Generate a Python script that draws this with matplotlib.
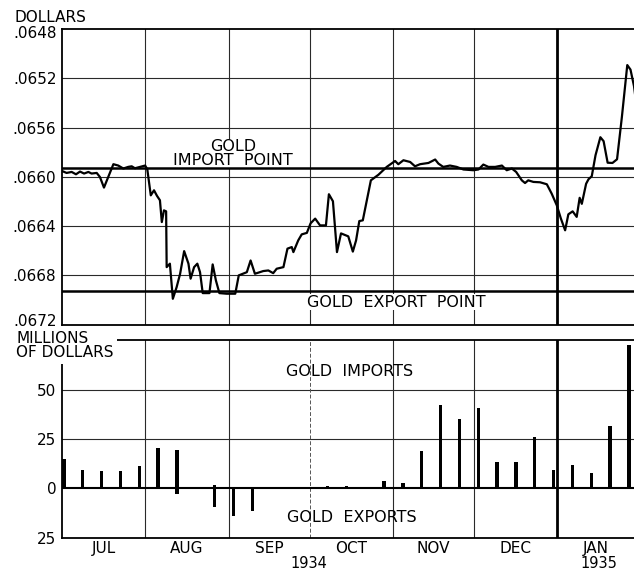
import matplotlib
matplotlib.use("Agg")
import matplotlib.pyplot as plt
import matplotlib.transforms as mtransforms
import numpy as np
import pandas as pd

plt.rcParams["font.family"] = ["DejaVu Sans"]

# ---- data -------------------------------------------------------------
START = pd.Timestamp("1934-07-01")
END_DAY = 212.6  # last day shown (late January 1935)

# dollar value of the exchange rate (days since 1 Jul 1934)
rate_day = [0.0, 1.7, 3.6, 5.2, 6.7, 8.2, 9.8, 11.0, 12.9, 14.1, 15.6, 17.2,
            19.1, 20.9, 22.8, 24.6, 25.9, 27.1, 29.0, 30.9, 31.7, 33.0, 34.2,
            35.3, 36.4, 37.1, 37.9, 38.7, 38.9, 40.1, 41.2, 42.6, 43.9, 45.4,
            47.0, 47.8, 49.1, 50.3, 51.3, 52.3, 54.8, 56.0, 57.2, 58.5, 61.2,
            64.4, 65.7, 68.7, 70.1, 71.7, 74.8, 76.7, 78.5, 79.8, 82.3, 83.8,
            85.4, 86.0, 87.8, 89.1, 91.0, 92.4, 94.1, 95.3, 95.9, 98.1, 99.2,
            100.7, 102.2, 103.7, 106.4, 108.1, 109.3, 110.5, 111.8, 113.3,
            114.8, 117.6, 120.7, 123.8, 125.0, 126.9, 129.4, 131.2, 133.1,
            136.2, 138.7, 139.9, 141.7, 144.2, 146.7, 149.2, 152.9, 154.8,
            156.6, 158.5, 161.0, 163.5, 165.3, 167.2, 168.8, 170.9, 172.1,
            173.3, 175.2, 177.7, 180.2, 182.0, 183.9, 185.4, 187.0, 188.2,
            189.8, 191.3, 192.4, 193.2, 194.8, 195.7, 196.9, 198.3, 200.1,
            201.3, 202.8, 204.6, 206.3, 208.1, 210.1, 211.3, 212.6, 213.4]
rate_value = [0.065953, 0.065969, 0.065961, 0.065980, 0.065958, 0.065974,
              0.065961, 0.065974, 0.065969, 0.066002, 0.066088, 0.066002,
              0.065898, 0.065909, 0.065933, 0.065920, 0.065915, 0.065931,
              0.065920, 0.065909, 0.065939, 0.066151, 0.066110, 0.066155,
              0.066191, 0.066368, 0.066273, 0.066281, 0.066734, 0.066706,
              0.066991, 0.066897, 0.066788, 0.066604, 0.066706, 0.066828,
              0.066734, 0.066706, 0.066775, 0.066945, 0.066945, 0.066712,
              0.066842, 0.066945, 0.066950, 0.066950, 0.066801, 0.066775,
              0.066680, 0.066788, 0.066766, 0.066761, 0.066783, 0.066747,
              0.066734, 0.066584, 0.066571, 0.066612, 0.066517, 0.066468,
              0.066456, 0.066378, 0.066340, 0.066376, 0.066395, 0.066395,
              0.066142, 0.066199, 0.066612, 0.066460, 0.066484, 0.066608,
              0.066517, 0.066360, 0.066354, 0.066191, 0.066029, 0.065984,
              0.065920, 0.065872, 0.065898, 0.065866, 0.065880, 0.065915,
              0.065898, 0.065888, 0.065860, 0.065893, 0.065920, 0.065909,
              0.065920, 0.065941, 0.065947, 0.065941, 0.065901, 0.065920,
              0.065920, 0.065909, 0.065947, 0.065933, 0.065961, 0.066029,
              0.066051, 0.066029, 0.066042, 0.066045, 0.066061, 0.066137,
              0.066232, 0.066338, 0.066435, 0.066305, 0.066281, 0.066326,
              0.066171, 0.066220, 0.066057, 0.066020, 0.065996, 0.065825,
              0.065679, 0.065711, 0.065886, 0.065888, 0.065858, 0.065514,
              0.065093, 0.065130, 0.065264, 0.065400]

GOLD_IMPORT_POINT = 0.06593
GOLD_EXPORT_POINT = 0.06693

# weekly gold movements, millions of dollars
week_start = pd.Timestamp("1934-07-01 17:00")
gold_imports = [15.0, 9.6, 8.7, 8.7, 11.6, 20.5, 19.3, 0.8, 1.5, 0, 0,
                0, 0, 0, 1.0, 1.0, 0, 3.8, 2.9, 18.9, 42.2, 35.4, 40.8,
                13.5, 13.3, 26.2, 9.2, 11.8, 7.6, 31.8, 72.8]
gold_exports = [0, 0, 0, 0, 0, 0, 2.7, 0, 9.4, 14.3, 11.5,
                0, 0, 0, 0, 0, 0, 0, 0, 0, 0, 0, 0,
                0, 0, 0, 0, 0, 0, 0, 0]

rate_ticks = [0.0648, 0.0652, 0.0656, 0.0660, 0.0664, 0.0668, 0.0672]
flow_ticks = [-25, 0, 25, 50]
flow_tick_labels = ["25", "0", "25", "50"]
months = ["JUL", "AUG", "SEP", "OCT", "NOV", "DEC", "JAN"]
month_starts = pd.date_range("1934-07-01", periods=8, freq="MS")

# ---- derived positions --------------------------------------------------
def days(ts):
    return (pd.DatetimeIndex(ts) - START) / pd.Timedelta(days=1)

bound_days = np.asarray(days(month_starts))
week_days = np.asarray(days(pd.date_range(week_start, periods=len(gold_imports), freq="7D")))
jan1 = bound_days[6]

# ---- figure -------------------------------------------------------------
W, H = 634, 572
fig = plt.figure(figsize=(W / 100, H / 100), dpi=100)
ax1 = fig.add_axes([62 / W, 1 - 324.5 / H, 572 / W, (324.5 - 29) / H])
ax2 = fig.add_axes([62 / W, 1 - 537.5 / H, 572 / W, (537.5 - 340) / H])

FS = 11
FA = 11.5
grid_kw = dict(color="#2a2a2a", lw=0.8, zorder=1)

for ax in (ax1, ax2):
    ax.set_xlim(0, END_DAY)
    ax.set_xticks([])
    ax.spines["right"].set_visible(False)
    for s in ("top", "left", "bottom"):
        ax.spines[s].set_linewidth(1.3)
    ax.tick_params(axis="y", length=0, pad=4, labelsize=FS)

# upper panel: exchange rate
ax1.set_ylim(rate_ticks[-1], rate_ticks[0])
ax1.set_yticks(rate_ticks)
ax1.set_yticklabels([("%.4f" % t)[1:] for t in rate_ticks])
labels = ax1.get_yticklabels()
labels[0].set_transform(labels[0].get_transform()
                        + mtransforms.ScaledTranslation(0, -2 / 72, fig.dpi_scale_trans))
labels[-1].set_transform(labels[-1].get_transform()
                         + mtransforms.ScaledTranslation(0, 3 / 72, fig.dpi_scale_trans))
for t in rate_ticks[1:-1]:
    ax1.axhline(t, **grid_kw)
for d in bound_days[1:6]:
    ax1.axvline(d, **grid_kw)
ax1.axvline(jan1, color="black", lw=2.0, zorder=1)
ax1.axhline(GOLD_IMPORT_POINT, color="black", lw=1.8, zorder=2)
ax1.axhline(GOLD_EXPORT_POINT, color="black", lw=1.8, zorder=2)
ax1.plot(rate_day, rate_value, color="black", lw=1.6, zorder=3,
         solid_joinstyle="round")

# lower panel: weekly gold movements
ax2.set_ylim(-25, 75.5)
ax2.set_yticks(flow_ticks)
ax2.set_yticklabels(flow_tick_labels)
for t in (25, 50):
    ax2.axhline(t, **grid_kw)
ax2.axhline(0, color="black", lw=1.5, zorder=2)
for i, d in enumerate(bound_days[1:6]):
    if i == 2:
        ax2.axvline(d, color="#555555", lw=0.7, ls=(0, (4, 2)), zorder=1)
    else:
        ax2.axvline(d, **grid_kw)
ax2.axvline(jan1, color="black", lw=2.0, zorder=1)
ax2.bar(week_days, gold_imports, width=1.25, color="black", zorder=3)
ax2.bar(week_days, -np.asarray(gold_exports), width=1.25, color="black", zorder=3)


def ptext(ax, x, y, s, z=4, **kw):
    # text placed in figure pixels, layered among the axes' own artists
    return ax.text(x / W, 1 - y / H, s, transform=fig.transFigure,
                   zorder=z, **kw)


# month and year labels
for i, m in enumerate(months):
    mid = (bound_days[i] + min(bound_days[i + 1], END_DAY)) / 2
    ax2.text(mid, -0.055, m, transform=ax2.get_xaxis_transform(),
             ha="center", va="center", fontsize=FS)
ptext(ax2, 309, 563.5, "1934", ha="center", va="center", fontsize=FS - 0.5)
ptext(ax2, 599, 563.5, "1935", ha="center", va="center", fontsize=FS - 0.5)

white = dict(facecolor="white", edgecolor="none", pad=0.3)
fig.text(14 / W, 1 - 17 / H, "DOLLARS", ha="left", va="center", fontsize=FS)
ptext(ax1, 233, 146.5, "GOLD", z=1.5, ha="center", va="center", fontsize=FA, bbox=white)
ptext(ax1, 233, 160.5, "IMPORT  POINT", z=1.5, ha="center", va="center",
      fontsize=FA, bbox=white)
ptext(ax1, 396, 302, "GOLD  EXPORT  POINT", z=1.5, ha="center", va="center",
      fontsize=FA, bbox=white)
fig.text(16 / W, 1 - 345.5 / H, "MILLIONS\nOF DOLLARS", ha="left", va="center",
         fontsize=FS, linespacing=0.95,
         bbox=dict(facecolor="white", edgecolor="none", pad=2.5), zorder=5)
ptext(ax2, 350, 371, "GOLD  IMPORTS", ha="center", va="center", fontsize=FA)
ptext(ax2, 352, 517, "GOLD  EXPORTS", ha="center", va="center", fontsize=FA)

fig.savefig("out.png", dpi=100, facecolor="white")
